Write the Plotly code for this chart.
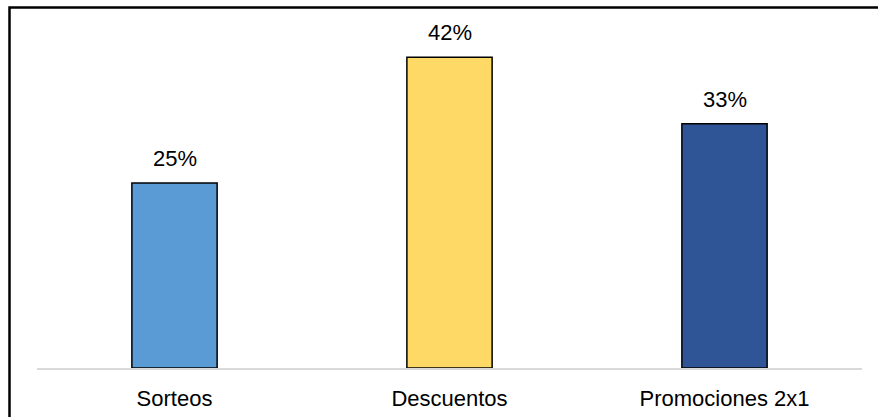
import plotly.graph_objects as go

categories = ["Sorteos", "Descuentos", "Promociones 2x1"]
values = [25, 42, 33]
colors = ["#5B9BD5", "#FFD966", "#2F5597"]
labels = [f"{v}%" for v in values]

W, H = 878, 417
ml, mr, mt, mb = 37, 16, 10, 49
pw, ph = W - ml - mr, H - mt - mb
FONT = "Liberation Sans, Arial"

fig = go.Figure(
    go.Bar(
        x=categories,
        y=values,
        marker=dict(color=colors, line=dict(color="#000000", width=1.5)),
        cliponaxis=False,
        width=0.31,
    )
)

# value labels above each bar
for cat, val, lab in zip(categories, values, labels):
    fig.add_annotation(
        x=cat, y=val, text=lab, showarrow=False,
        yanchor="bottom", yshift=10,
        font=dict(family=FONT, size=22, color="#000000"),
    )

# outer frame, placed in pixels relative to the plotting area
def px_x(p):
    return (p - ml) / pw

def px_y(p):
    return (H - mb - p) / ph

fig.add_shape(
    type="rect",
    xref="paper", yref="paper",
    x0=px_x(9.5), x1=px_x(900), y0=px_y(440), y1=px_y(7.5),
    line=dict(color="#000000", width=2.5),
    fillcolor="rgba(0,0,0,0)",
    layer="above",
)

fig.update_layout(
    width=W, height=H,
    margin=dict(l=ml, r=mr, t=mt, b=mb, autoexpand=False),
    paper_bgcolor="#FFFFFF",
    plot_bgcolor="#FFFFFF",
    showlegend=False,
    font=dict(family=FONT, size=22, color="#000000"),
    xaxis=dict(
        showline=True, linecolor="#D9D9D9", linewidth=1.5,
        showgrid=False, ticks="", tickfont=dict(size=22),
        ticklabelstandoff=10, automargin=False,
    ),
    yaxis=dict(
        range=[0, ph / 7.4], visible=False, showgrid=False, zeroline=False,
    ),
)

fig.write_html("out.html")
